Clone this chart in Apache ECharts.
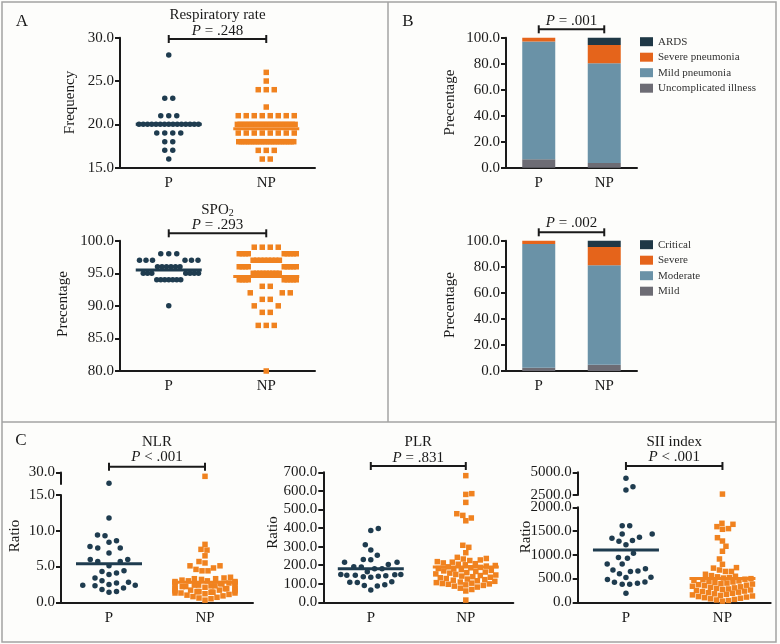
<!DOCTYPE html>
<html>
<head>
<meta charset="utf-8">
<title>Figure</title>
<script src="https://cdn.jsdelivr.net/npm/echarts@6.0.0/dist/echarts.min.js"></script>
<style>
  html, body { margin: 0; padding: 0; background: #fdfdfb; }
  #chart { width: 780px; height: 644px; }
</style>
</head>
<body>
<div id="chart"></div>
<script>
// ---- values ----
var groups = ['P', 'NP'];

// A, top: respiratory rate
var rrAxis = [15, 30, 5];
var rrP = [28, 23, 23, 21, 21, 21,
  20, 20, 20, 20, 20, 20, 20, 20, 20, 20, 20, 20, 20, 20, 20,
  19, 19, 19, 19, 18, 18, 17, 17, 16];
var rrNP = [26, 25, 24, 24, 24, 22,
  21, 21, 21, 21, 21, 21, 21, 21,
  20, 20, 20, 20, 20, 20, 20, 20, 20, 20, 20, 20, 20, 20, 20, 20, 20, 20, 20, 20, 20, 20,
  19, 19, 19, 19, 19, 19, 19, 19,
  18, 18, 18, 18, 18, 18, 18, 18, 18, 18, 18, 18, 18, 18, 18, 18, 18, 18, 18, 18, 18, 18, 18,
  17, 17, 17, 16, 16];
var rrCenter = [20, 19.5];

// A, bottom: SPO2
var spoAxis = [80, 100, 5];
var spoP = [98, 98, 98, 97, 97, 97, 97, 97, 97, 96, 96, 96, 96, 96, 96,
  95, 95, 95, 95, 95, 95, 95, 94, 94, 94, 94, 94, 94, 94, 90];
var spoNP = [99, 99, 99, 99,
  98, 98, 98, 98, 98, 98, 98, 98, 98,
  97, 97, 97, 97, 97, 97, 97, 97,
  96, 96, 96, 96, 96, 96, 96, 96, 96,
  95, 95, 95, 95, 95, 95, 95, 95, 95,
  94, 94, 94, 94, 94, 94, 94, 94, 94,
  93, 93, 92, 92, 92, 91, 91, 90, 90, 89, 89, 87, 87, 87, 80];
var spoCenter = [95.5, 94.5];

// B: share of patients per class (%), bottom to top
var pctAxis = [0, 100, 20];
var classA = ['Uncomplicated illness', 'Mild pneumonia', 'Severe pneumonia', 'ARDS'];
var classAP = [6.5, 90.5, 3.0, 0];
var classANP = [3.6, 76.7, 14.1, 5.6];
var classB = ['Mild', 'Moderate', 'Severe', 'Critical'];
var classBP = [2.5, 94.9, 2.6, 0];
var classBNP = [4.8, 76.3, 14.1, 4.8];

// C: NLR
var nlrAxisLo = [0, 15, 5];
var nlrAxisHi = [15, 30, 15];
var nlrP = [16, 11.8, 9.4, 9.3, 8.6, 8.4, 7.8, 7.6, 7.6, 6.9, 6.0, 6.0, 5.7, 5.7, 5.1,
  4.4, 4.3, 4.1, 3.9, 3.4, 3.0, 2.8, 2.7, 2.5, 2.4, 2.4, 2.3, 2.0, 1.8, 1.5, 1.4];
var nlrNP = [25.0, 8.1, 7.4, 7.3, 6.5, 5.7, 5.5, 5.1, 5.1, 4.8, 4.6, 4.4, 4.4,
  3.5, 3.4, 3.3, 3.3, 3.2, 3.1, 3.0, 3.0, 2.9, 2.9, 2.8, 2.8, 2.7, 2.6, 2.6, 2.5, 2.5,
  2.4, 2.4, 2.3, 2.3, 2.2, 2.2, 2.1, 2.0, 2.0, 1.9, 1.9, 1.8, 1.8, 1.7, 1.7, 1.6, 1.6,
  1.5, 1.5, 1.5, 1.4, 1.4, 1.4, 1.3, 1.3, 1.3, 1.2, 1.1, 1.0, 0.9, 0.8, 0.7, 0.6, 0.5, 0.3];
var nlrCenter = [5.4, 2.8];

// C: PLR
var plrAxis = [0, 700, 100];
var plrP = [398, 386, 310, 282, 253, 231, 229, 215, 215, 204, 192, 190, 181, 181, 165,
  150, 150, 148, 146, 145, 143, 140, 138, 135, 110, 108, 106, 95, 90, 88, 66];
var plrNP = [682, 585, 581, 538, 477, 468, 454, 439, 307, 296, 267,
  242, 236, 233, 228, 225, 219, 216, 212, 208, 205, 202, 198, 195, 191, 188, 186, 182, 179, 176,
  172, 169, 166, 163, 160, 157, 153, 150, 147, 144, 141, 138, 135, 132, 128, 125, 122, 119,
  116, 113, 109, 106, 103, 101, 99, 97, 94, 91, 87, 82, 76, 69, 61, 12];
var plrCenter = [180, 190];

// C: SII index
var siiAxisLo = [0, 2000, 500];
var siiAxisHi = [2500, 5000, 2500];
var siiP = [4340, 3410, 3050, 1613, 1613, 1438, 1438, 1370, 1350, 1300, 1284, 1213, 1031,
  943, 925, 806, 806, 708, 680, 660, 650, 600, 530, 520, 480, 430, 420, 400, 380, 380, 190];
var siiNP = [2600, 1663, 1642, 1593, 1551, 1537, 1360, 1290, 1180, 1075, 912, 800, 730, 720,
  680, 650, 650, 590, 562, 548, 536, 521, 511, 498, 486, 474, 463, 451, 439, 428, 416, 405,
  394, 383, 371, 360, 349, 337, 326, 315, 304, 292, 281, 270, 259, 247, 236, 225, 213, 202,
  191, 179, 168, 156, 145, 133, 121, 110, 98, 86, 74, 62, 49, 37, 25];
var siiCenter = [1100, 500];

// ---- layout ----
var FONT = 'Liberation Serif';
var ink = '#1a1a1a';
var navy = '#1f3c4f';
var orange = '#f0821f';
var stackColors = ['#6d6c74', '#6a92a7', '#e5641b', '#1f3846'];

// [left, top, width, height] of each plotting area
var boxes = {
  rr: [120, 37.7, 195, 130],
  spo: [120, 240.7, 195, 130.3],
  b1: [506, 37.7, 131, 130],
  b2: [506, 240.7, 131, 130.3],
  nlrLo: [61, 495, 192, 107.3],
  nlrHi: [61, 472.5, 192, 11.5],
  plr: [323.3, 472.3, 190, 130],
  siiLo: [577.7, 507.3, 193, 95],
  siiHi: [577.7, 472.3, 193, 22.7]
};

var chart = echarts.init(document.getElementById('chart'));

var option = {
  backgroundColor: '#fdfdfb',
  animation: false,
  textStyle: { fontFamily: FONT },
  grid: [], xAxis: [], yAxis: [], series: [], legend: [], graphic: []
};

// beeswarm offsets (px) so that markers of one group do not overlap
function swarm(values, pxY, pxX, cx, d, maxHalf, upward) {
  var sorted = values.slice().sort(function (a, b) { return upward ? a - b : b - a; });
  var rows = [];
  sorted.forEach(function (v) {
    var last = rows[rows.length - 1];
    if (last && last.v === v) last.n++;
    else rows.push({ v: v, n: 1 });
  });
  var placed = [], out = [], flip = 1;
  function minDist(o, y) {
    var m = Infinity;
    for (var i = 0; i < placed.length; i++) {
      var dx = placed[i].o - o, dy = placed[i].y - y;
      m = Math.min(m, Math.sqrt(dx * dx + dy * dy));
    }
    return m;
  }
  rows.forEach(function (r) {
    var y = r.v * pxY, offs = null, o, k;
    if (r.n === 1) {
      for (k = 0; k <= maxHalf && offs === null; k += 0.5) {
        var tries = k === 0 ? [0] : [flip * k, -flip * k];
        for (var t = 0; t < tries.length; t++) {
          if (minDist(tries[t], y) >= d) { offs = [tries[t]]; break; }
        }
      }
      if (offs === null) {
        var best = 0, bestD = -1;
        for (o = -maxHalf; o <= maxHalf; o += 0.5) {
          var md = minDist(o, y);
          if (md > bestD + 1e-9 || (Math.abs(md - bestD) < 1e-9 && Math.abs(o) < Math.abs(best))) {
            bestD = md; best = o;
          }
        }
        offs = [best];
      }
      if (offs[0] !== 0) flip = offs[0] > 0 ? -1 : 1;
    } else {
      for (var s = d; s >= 1 && offs === null; s -= 0.25) {
        var ok = [];
        for (o = (r.n % 2 ? 0 : s / 2); o <= maxHalf + 1e-6; o += s) {
          if (minDist(o, y) >= d) ok.push(o);
          if (o > 0 && minDist(-o, y) >= d) ok.push(-o);
        }
        if (ok.length >= r.n) offs = ok.slice(0, r.n);
      }
      if (offs === null) {
        offs = [];
        for (k = 0; k < r.n; k++) offs.push(-maxHalf + 2 * maxHalf * k / (r.n - 1));
      }
    }
    offs.forEach(function (o) {
      placed.push({ o: o, y: y });
      out.push([cx + o / pxX, r.v]);
    });
  });
  return out;
}

function addGrid(box) {
  option.grid.push({
    left: box[0], top: box[1], width: box[2], height: box[3],
    containLabel: false, outerBoundsMode: 'none'
  });
  return option.grid.length - 1;
}

function yAxisOf(gi, r) {
  return {
    gridIndex: gi, type: 'value', min: r[0], max: r[1], interval: r[2],
    axisLine: { show: true, lineStyle: { color: ink, width: 2 } },
    axisTick: { show: true, length: 5, lineStyle: { color: ink, width: 2 } },
    splitLine: { show: false },
    axisLabel: {
      color: ink, fontFamily: FONT, fontSize: 15, margin: 6,
      formatter: function (v) { return v.toFixed(1); }
    }
  };
}

function catAxisOf(gi) {
  return {
    gridIndex: gi, type: 'category', data: groups,
    axisLine: { onZero: false, lineStyle: { color: ink, width: 2 } },
    axisTick: { alignWithLabel: true, length: 5, lineStyle: { color: ink, width: 2 } },
    axisLabel: { color: ink, fontFamily: FONT, fontSize: 15, margin: 8 }
  };
}

function dotPanel(box, range, withCat) {
  var gi = addGrid(box);
  if (withCat) option.xAxis.push(catAxisOf(gi));
  option.xAxis.push({ gridIndex: gi, type: 'value', min: 0, max: 4, show: false });
  var xi = option.xAxis.length - 1;
  option.yAxis.push(yAxisOf(gi, range));
  return {
    x: xi, y: option.yAxis.length - 1,
    pxX: box[2] / 4, pxY: box[3] / (range[1] - range[0])
  };
}

function dots(p, vals, g, d, upward) {
  if (!vals.length) return;
  option.series.push({
    type: 'scatter', xAxisIndex: p.x, yAxisIndex: p.y,
    data: swarm(vals, p.pxY, p.pxX, g ? 3 : 1, d, 30, upward),
    symbol: g ? 'rect' : 'circle', symbolSize: 5.5,
    itemStyle: { color: g ? orange : navy, opacity: 1 },
    silent: true, z: 2
  });
}

function centerLine(p, v, g) {
  var cx = g ? 3 : 1, hw = 33 / p.pxX;
  option.series.push({
    type: 'line', xAxisIndex: p.x, yAxisIndex: p.y,
    data: [[cx - hw, v], [cx + hw, v]],
    symbol: 'none', lineStyle: { color: g ? orange : navy, width: 3 },
    silent: true, z: 3
  });
}

function stackPanel(box, names, pVals, npVals, id) {
  var gi = addGrid(box);
  option.xAxis.push(catAxisOf(gi));
  var xi = option.xAxis.length - 1;
  option.yAxis.push(yAxisOf(gi, pctAxis));
  var yi = option.yAxis.length - 1;
  names.forEach(function (n, i) {
    option.series.push({
      type: 'bar', name: n, stack: id, xAxisIndex: xi, yAxisIndex: yi, barWidth: 33,
      data: [pVals[i], npVals[i]], itemStyle: { color: stackColors[i] }, silent: true
    });
  });
  option.legend.push({
    data: names.slice().reverse(), orient: 'vertical', left: 640, top: box[1] - 1.5,
    itemWidth: 13, itemHeight: 9, itemGap: 4.5, icon: 'rect', padding: 0,
    selectedMode: false, textStyle: { fontFamily: FONT, fontSize: 11, color: '#333' }
  });
}

// ---- A ----
var pRR = dotPanel(boxes.rr, rrAxis, true);
dots(pRR, rrP, 0, 8, false);
dots(pRR, rrNP, 1, 8, false);
centerLine(pRR, rrCenter[0], 0);
centerLine(pRR, rrCenter[1], 1);

var pSpo = dotPanel(boxes.spo, spoAxis, true);
dots(pSpo, spoP, 0, 8, false);
dots(pSpo, spoNP, 1, 8, false);
centerLine(pSpo, spoCenter[0], 0);
centerLine(pSpo, spoCenter[1], 1);

// ---- B ----
stackPanel(boxes.b1, classA, classAP, classANP, 'a');
stackPanel(boxes.b2, classB, classBP, classBNP, 'b');

// ---- C ----
// P markers keep a full gap, NP markers pack a bit tighter like the original
var gapC = [7.5, 6];
function splitPlot(boxLo, boxHi, axLo, axHi, pVals, npVals, centers) {
  var lo = dotPanel(boxLo, axLo, true);
  var hi = dotPanel(boxHi, axHi, false);
  var cut = axLo[1];
  [pVals, npVals].forEach(function (vals, g) {
    dots(lo, vals.filter(function (v) { return v <= cut; }), g, gapC[g], true);
    dots(hi, vals.filter(function (v) { return v > cut; }), g, gapC[g], true);
    centerLine(lo, centers[g], g);
  });
}
splitPlot(boxes.nlrLo, boxes.nlrHi, nlrAxisLo, nlrAxisHi, nlrP, nlrNP, nlrCenter);

var pPlr = dotPanel(boxes.plr, plrAxis, true);
dots(pPlr, plrP, 0, gapC[0], true);
dots(pPlr, plrNP, 1, gapC[1], true);
centerLine(pPlr, plrCenter[0], 0);
centerLine(pPlr, plrCenter[1], 1);

splitPlot(boxes.siiLo, boxes.siiHi, siiAxisLo, siiAxisHi, siiP, siiNP, siiCenter);

// ---- annotations ----
function text(x, y, str, size, extra) {
  var style = { text: str, fontFamily: FONT, fontSize: size, fill: ink, align: 'center', verticalAlign: 'middle' };
  for (var k in extra) style[k] = extra[k];
  return { type: 'text', x: x, y: y, style: style, silent: true };
}
var pRich = {
  i: { fontStyle: 'italic', fontFamily: FONT, fontSize: 15, fill: ink, color: ink },
  n: { fontFamily: FONT, fontSize: 15, fill: ink, color: ink },
  s: { fontFamily: FONT, fontSize: 10, fill: ink, color: ink, verticalAlign: 'bottom', padding: [7, 0, 0, 0] }
};
function header(box, title, titleY, pText, pY, bracketY) {
  var x1 = box[0] + box[2] * 0.25, x2 = box[0] + box[2] * 0.75, mid = (x1 + x2) / 2;
  var ln = { stroke: ink, lineWidth: 2 };
  if (title) option.graphic.push(text(mid, titleY, title, 15, { rich: pRich }));
  option.graphic.push(text(mid, pY, pText, 15, { rich: pRich }));
  option.graphic.push({ type: 'line', shape: { x1: x1, y1: bracketY, x2: x2, y2: bracketY }, style: ln, silent: true });
  option.graphic.push({ type: 'line', shape: { x1: x1, y1: bracketY - 4, x2: x1, y2: bracketY + 4 }, style: ln, silent: true });
  option.graphic.push({ type: 'line', shape: { x1: x2, y1: bracketY - 4, x2: x2, y2: bracketY + 4 }, style: ln, silent: true });
}
header(boxes.rr, '{n|Respiratory rate}', 15, '{i|P}{n| = .248}', 31.5, 39);
header(boxes.spo, '{n|SPO}{s|2}', 210, '{i|P}{n| = .293}', 225.5, 233.3);
header(boxes.b1, null, 0, '{i|P}{n| = .001}', 21, 29.3);
header(boxes.b2, null, 0, '{i|P}{n| = .002}', 223.5, 232.3);
header(boxes.nlrLo, '{n|NLR}', 441.7, '{i|P}{n| < .001}', 457.3, 466.7);
header(boxes.plr, '{n|PLR}', 441.7, '{i|P}{n| = .831}', 458, 466);
header(boxes.siiLo, '{n|SII index}', 441.7, '{i|P}{n| < .001}', 457, 466);

// rotated axis titles
[[70, 102.5, 'Frequency'], [63, 304, 'Precentage'], [450, 102.5, 'Precentage'],
 [450, 305, 'Precentage'], [15, 536, 'Ratio'], [273, 532.5, 'Ratio'], [526, 537, 'Ratio']
].forEach(function (a) {
  var t = text(a[0], a[1], a[2], 15);
  t.rotation = Math.PI / 2;
  option.graphic.push(t);
});

// panel letters
option.graphic.push(text(22, 22, 'A', 17));
option.graphic.push(text(408, 22, 'B', 17));
option.graphic.push(text(21, 441, 'C', 17));

// panel frames
var frame = { stroke: '#a3a3a3', lineWidth: 1.5, fill: null };
option.graphic.push({ type: 'rect', shape: { x: 2, y: 2, width: 774, height: 640 }, style: frame, silent: true, z: -1 });
option.graphic.push({ type: 'line', shape: { x1: 388, y1: 2, x2: 388, y2: 422 }, style: frame, silent: true, z: -1 });
option.graphic.push({ type: 'line', shape: { x1: 2, y1: 422, x2: 776, y2: 422 }, style: frame, silent: true, z: -1 });

chart.setOption(option);
</script>
</body>
</html>
